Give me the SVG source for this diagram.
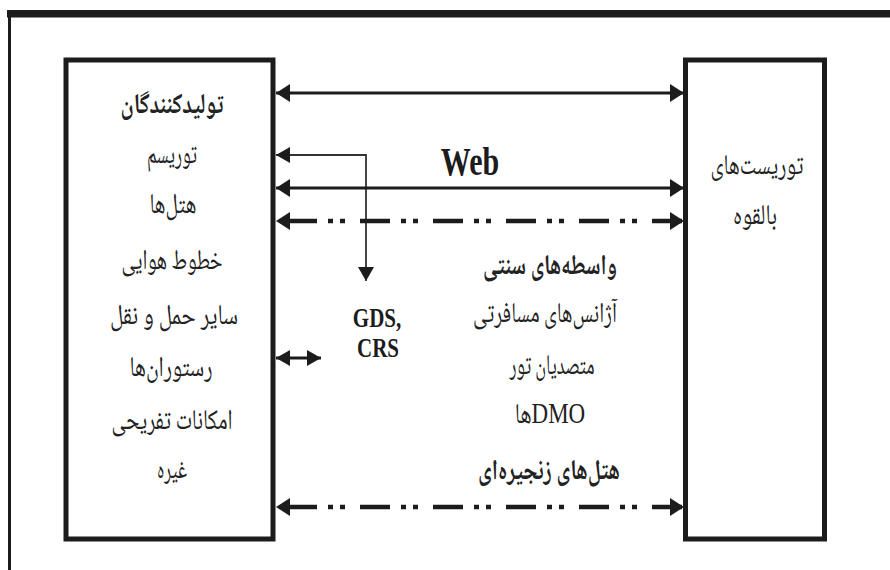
<svg xmlns="http://www.w3.org/2000/svg" width="890" height="570" viewBox="0 0 890 570">
  <style>
    .box { fill: #ffffff; stroke: #1c1c1c; stroke-width: 5; }
    .fa { font-family: "Noto Naskh Arabic", "Noto Sans Arabic", "DejaVu Sans", sans-serif; fill: #222222; direction: rtl; font-size: 22px; }
    .fl { font-family: "Liberation Serif", "Times New Roman", serif; fill: #1c1c1c; font-weight: bold; }
    .b { font-weight: bold; }
    .solid { fill: none; stroke: #1c1c1c; stroke-width: 3; }
    .dashdot { fill: none; stroke: #1c1c1c; stroke-width: 4.5; stroke-dasharray: 30 11 5 7 5 15; stroke-dashoffset: 62; }
    .thin { fill: none; stroke: #333333; stroke-width: 1.8; }
  </style>
  <defs>
    <marker id="ah" markerUnits="userSpaceOnUse" markerWidth="15" markerHeight="18" refX="14" refY="9" orient="auto-start-reverse" viewBox="0 0 15 18">
      <path d="M0,0 L14,9 L0,18 z" fill="#1c1c1c"/>
    </marker>
    <marker id="ahs" markerUnits="userSpaceOnUse" markerWidth="15" markerHeight="16" refX="14" refY="8" orient="auto-start-reverse" viewBox="0 0 15 16">
      <path d="M0,0 L14,8 L0,16 z" fill="#1c1c1c"/>
    </marker>
  </defs>

  <rect width="890" height="570" fill="#ffffff"/>

  <g id="frame">
    <rect x="7" y="10" width="883" height="7.5" fill="#1c1c1c"/>
    <line x1="9.5" y1="10" x2="9.5" y2="570" stroke="#1c1c1c" stroke-width="3"/>
  </g>

  <g id="node-producers">
    <rect class="box" x="66" y="60" width="207" height="479"/>
    <text class="fa b" text-anchor="middle" transform="translate(172,113) scale(1,1.3)" textLength="103" lengthAdjust="spacingAndGlyphs">تولیدکنندگان</text>
    <text class="fa" text-anchor="middle" transform="translate(172,163) scale(1,1.3)" textLength="50" lengthAdjust="spacingAndGlyphs">توریسم</text>
    <text class="fa" text-anchor="middle" transform="translate(173,213) scale(1,1.3)" textLength="47" lengthAdjust="spacingAndGlyphs">هتل‌ها</text>
    <text class="fa" text-anchor="middle" transform="translate(172,269) scale(1,1.3)" textLength="101" lengthAdjust="spacingAndGlyphs">خطوط هوایی</text>
    <text class="fa" text-anchor="middle" transform="translate(174,324) scale(1,1.3)" textLength="128" lengthAdjust="spacingAndGlyphs">سایر حمل و نقل</text>
    <text class="fa" text-anchor="middle" transform="translate(171,376) scale(1,1.3)" textLength="83" lengthAdjust="spacingAndGlyphs">رستوران‌ها</text>
    <text class="fa" text-anchor="middle" transform="translate(172,429) scale(1,1.3)" textLength="121" lengthAdjust="spacingAndGlyphs">امکانات تفریحی</text>
    <text class="fa" text-anchor="middle" transform="translate(172,478) scale(1,1.3)" textLength="30" lengthAdjust="spacingAndGlyphs">غیره</text>
  </g>

  <g id="node-tourists">
    <rect class="box" x="685.5" y="60" width="139" height="479"/>
    <text class="fa" text-anchor="middle" transform="translate(757,174) scale(1,1.3)" textLength="93" lengthAdjust="spacingAndGlyphs">توریست‌های</text>
    <text class="fa" text-anchor="middle" transform="translate(755,224) scale(1,1.3)" textLength="44" lengthAdjust="spacingAndGlyphs">بالقوه</text>
  </g>

  <g id="node-gds">
    <text class="fl" text-anchor="middle" font-size="21" transform="translate(377,327) scale(1,1.3)">GDS,</text>
    <text class="fl" text-anchor="middle" font-size="21" transform="translate(378,357) scale(1,1.3)">CRS</text>
  </g>

  <g id="label-web">
    <text class="fl" text-anchor="middle" font-size="30" transform="translate(470,175) scale(1,1.3)">Web</text>
  </g>

  <g id="node-intermediaries">
    <text class="fa b" text-anchor="middle" transform="translate(550,274) scale(1,1.3)" textLength="134" lengthAdjust="spacingAndGlyphs">واسطه‌های سنتی</text>
    <text class="fa" text-anchor="middle" transform="translate(545,322) scale(1,1.3)" textLength="144" lengthAdjust="spacingAndGlyphs">آژانس‌های مسافرتی</text>
    <text class="fa" text-anchor="middle" transform="translate(552,374) scale(1,1.3)" textLength="85" lengthAdjust="spacingAndGlyphs">متصدیان تور</text>
    <text class="fa" text-anchor="middle" transform="translate(550,423) scale(1,1.3)"><tspan font-family="Liberation Serif, serif" font-size="23">DMO</tspan>ها</text>
    <text class="fa b" text-anchor="middle" transform="translate(549,479) scale(1,1.3)" textLength="142" lengthAdjust="spacingAndGlyphs">هتل‌های زنجیره‌ای</text>
  </g>

  <g id="connectors">
    <line class="solid" x1="276" y1="93" x2="684" y2="93" marker-start="url(#ah)" marker-end="url(#ah)"/>
    <path class="thin" d="M366,281 V155 H276" marker-start="url(#ahs)" marker-end="url(#ahs)"/>
    <line class="solid" x1="276" y1="188" x2="684" y2="188" marker-start="url(#ah)" marker-end="url(#ah)"/>
    <line class="dashdot" x1="276" y1="221" x2="684" y2="221" marker-start="url(#ah)" marker-end="url(#ah)"/>
    <line class="solid" x1="276" y1="358" x2="321" y2="358" marker-start="url(#ahs)" marker-end="url(#ahs)"/>
    <line class="dashdot" x1="276" y1="507" x2="684" y2="507" marker-start="url(#ah)" marker-end="url(#ah)"/>
  </g>
</svg>
